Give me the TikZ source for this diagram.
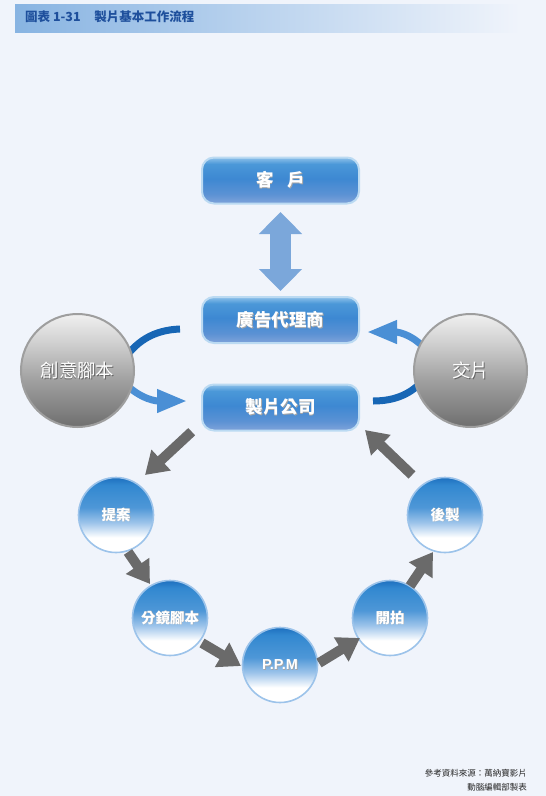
\documentclass[tikz,border=0pt]{standalone}
\usepackage{fontspec}
\setmainfont{Liberation Sans}
\newfontfamily\cjk{Noto Sans CJK TC}
\usetikzlibrary{arrows.meta,calc}
\definecolor{bgc}{HTML}{F0F4FB}
\definecolor{titlec}{HTML}{1E4F9C}
\definecolor{tbar1}{HTML}{88B4E2}
\definecolor{tbar2}{HTML}{BCD4EF}
\definecolor{darkarc}{HTML}{1766B5}
\definecolor{lightarc}{HTML}{4A8FD5}
\definecolor{grayarr}{HTML}{6A6A6A}
\definecolor{dblc}{HTML}{7BA7DA}
\definecolor{bx1}{HTML}{7FA3DA}
\definecolor{bx2}{HTML}{5C92D4}
\definecolor{bx3}{HTML}{3D88D2}
\definecolor{bx4}{HTML}{4B98D8}
\definecolor{bx5}{HTML}{8EC1EA}
\definecolor{gy1}{HTML}{6F6F6F}
\definecolor{gy2}{HTML}{9E9E9E}
\definecolor{gy3}{HTML}{CFCFCF}
\definecolor{gy4}{HTML}{F0F0F0}
\definecolor{bl1}{HTML}{9CC3EA}
\definecolor{bl2}{HTML}{4E97D7}
\definecolor{bl3}{HTML}{3288D0}
\definecolor{bl4}{HTML}{1E70BF}
\pgfdeclareverticalshading{boxshade}{100bp}{color(0bp)=(bx1); color(25bp)=(bx1); color(35bp)=(bx2); color(52bp)=(bx3); color(68bp)=(bx4); color(75bp)=(bx5); color(100bp)=(bx5)}
\pgfdeclareverticalshading{grayshade}{100bp}{color(0bp)=(gy1); color(25bp)=(gy1); color(45bp)=(gy2); color(62bp)=(gy3); color(75bp)=(gy4); color(100bp)=(gy4)}
\pgfdeclareverticalshading{ballshade}{100bp}{color(0bp)=(white); color(25bp)=(white); color(35bp)=(white); color(45bp)=(bl1); color(55bp)=(bl2); color(70bp)=(bl3); color(75bp)=(bl4); color(100bp)=(bl4)}
\newcommand\shtext[1]{\rlap{\kern1pt\raisebox{-1pt}{\textcolor{black!60}{#1}}}#1}
\newcommand\shtextb[1]{\rlap{\kern0.7pt\raisebox{-0.7pt}{\textcolor{black!35}{#1}}}#1}
\begin{document}
\begin{tikzpicture}[x=1pt,y=-1pt,
  bbox/.style={rounded corners=12pt, minimum width=157pt, minimum height=46pt, draw=bx5!60!white, line width=2pt, shading=boxshade, text=white, font=\cjk\bfseries\fontsize{17.5}{19}\selectfont},
  gball/.style={circle, minimum size=113pt, inner sep=0pt, draw=gy2, line width=2pt, shading=grayshade, text=white, font=\cjk\fontsize{18.5}{20}\selectfont},
  bball/.style={circle, minimum size=75pt, inner sep=0pt, draw=bl1, line width=1.6pt, shading=ballshade, text=white, font=\cjk\bfseries\fontsize{14.5}{16}\selectfont},
  grayarrow/.style={draw=grayarr, line width=10pt, -{Triangle[length=22pt,width=27pt]}},
  darkcurve/.style={draw=darkarc, line width=7pt},
  lightcurve/.style={draw=lightarc, line width=7pt, -{Triangle[length=30pt,width=22pt]}},
  dblarrow/.style={draw=dblc, line width=21pt, {Triangle[length=22pt,width=42pt]}-{Triangle[length=22pt,width=42pt]}}
]
\useasboundingbox (0,0) rectangle (546,796);
\fill[bgc] (0,0) rectangle (546,796);
% title bar
\shade[left color=tbar1, middle color=tbar2, right color=bgc] (15,4) rectangle (520,32);
\node[anchor=west, inner sep=0pt, text=titlec, font=\cjk\bfseries\fontsize{12.5}{14}\selectfont] (title) at (25,17) {圖表 1-31\hspace{1.1em}製片基本工作流程};

% curved connectors (drawn first, partly hidden by circles)
\coordinate (la1) at (120,366);
\coordinate (la2) at (180,329);
\coordinate (lb1) at (120,378);
\coordinate (lb2) at (187,401);
\coordinate (ra1) at (428,352);
\coordinate (ra2) at (367,332);
\coordinate (rb1) at (373,401);
\coordinate (rb2) at (425,378);
\draw[darkcurve] (la1) .. controls (135,340) and (155,330) .. (la2);
\draw[lightcurve] (lb1) .. controls (135,396) and (152,401) .. (lb2);
\draw[lightcurve] (ra1) .. controls (415,336) and (400,332) .. (ra2);
\draw[darkcurve] (rb1) .. controls (395,401) and (412,394) .. (rb2);

% boxes
\node[bbox] (client) at (280.5,180.5) {\shtextb{客\hspace{0.8em}戶}};
\node[bbox] (agency) at (280.5,320) {\shtextb{廣告代理商}};
\node[bbox] (studio) at (280.5,407.5) {\shtextb{製片公司}};

% double arrow
\coordinate (d1) at (280.5,212);
\coordinate (d2) at (280.5,291);
\draw[dblarrow] (d1) -- (d2);

% gray circles
\node[gball] (idea) at (77.5,370.5) {\shtext{創意腳本}};
\node[gball] (deliver) at (470.5,370.5) {\shtext{交片}};

% small balls
\node[bball] (s1) at (116,515) {\shtextb{提案}};
\node[bball] (s2) at (170,618) {\shtextb{分鏡腳本}};
\node[bball, font=\bfseries\fontsize{14.5}{16}\selectfont] (s3) at (280,665) {\shtextb{P.P.M}};
\node[bball] (s4) at (390,618) {\shtextb{開拍}};
\node[bball] (s5) at (445,515) {\shtextb{後製}};

% gray arrows
\coordinate (g0a) at (191.7,431.7); \coordinate (g0b) at (145,475);
\coordinate (g1a) at (128,552);    \coordinate (g1b) at (150,584);
\coordinate (g2a) at (202,643);    \coordinate (g2b) at (241,666);
\coordinate (g3a) at (319,663);    \coordinate (g3b) at (360,638);
\coordinate (g4a) at (410,586);    \coordinate (g4b) at (433,552);
\coordinate (g5a) at (412,475);    \coordinate (g5b) at (365,430);
\draw[grayarrow] (g0a) -- (g0b);
\draw[grayarrow] (g1a) -- (g1b);
\draw[grayarrow] (g2a) -- (g2b);
\draw[grayarrow] (g3a) -- (g3b);
\draw[grayarrow] (g4a) -- (g4b);
\draw[grayarrow] (g5a) -- (g5b);

% footer
\node[anchor=east, inner sep=0pt, text=black!85, font=\cjk\fontsize{8.5}{10}\selectfont] (src) at (527,773) {參考資料來源：萬納寶影片};
\node[anchor=east, inner sep=0pt, text=black!85, font=\cjk\fontsize{8.5}{10}\selectfont] (made) at (527,787) {動腦編輯部製表};
\end{tikzpicture}
\end{document}
